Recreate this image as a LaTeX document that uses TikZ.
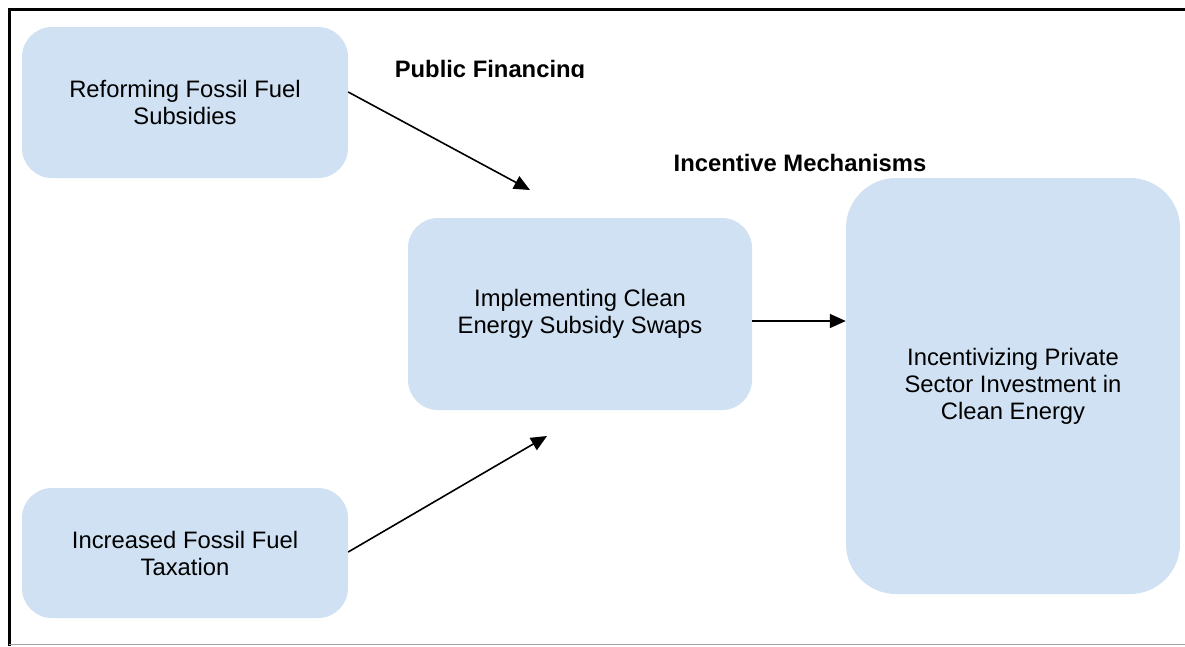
\documentclass[tikz,border=0pt]{standalone}
\usepackage{fontspec}
\setmainfont{Liberation Sans}
\usetikzlibrary{arrows.meta}
\definecolor{boxblue}{RGB}{207,225,242}
\begin{document}
\begin{tikzpicture}[x=1pt,y=-1pt,
  box/.style={fill=boxblue,draw=none,rounded corners=30pt,align=center,
    font=\fontsize{23.8}{27}\selectfont,inner sep=0pt},
  lbl/.style={font=\fontsize{23.8}{27}\selectfont\bfseries,inner sep=0pt},
  conn/.style={line width=1.6pt,-{Triangle[length=16pt,width=14pt]}}]
\useasboundingbox (0,0) rectangle (1185,646);
% frame
\draw[line width=3pt] (9,646) -- (9,9) -- (1185,9);
\draw[line width=1.2pt,gray!70] (9,644.5) -- (1185,644.5);
% boxes
\node[box,minimum width=326pt,minimum height=151pt] (a) at (185,102.5) {Reforming Fossil Fuel\\Subsidies};
\node[box,minimum width=326pt,minimum height=130pt] (b) at (185,553) {Increased Fossil Fuel\\Taxation};
\node[box,minimum width=344pt,minimum height=192pt] (c) at (580,314) {Implementing Clean\\Energy Subsidy Swaps};
\node[box,rounded corners=50pt,minimum width=334pt,minimum height=416pt] (d) at (1013,386) {Incentivizing Private\\Sector Investment in\\Clean Energy};
% labels
\begin{scope}
\clip (300,40) rectangle (700,77);
\node[lbl] (pf) at (490,71) {Public Financing};
\end{scope}
\node[lbl] (im) at (800,163) {Incentive Mechanisms};
% connectors
\coordinate (e1) at (530,190);
\coordinate (e2) at (547,436);
\draw[conn] (a.east |- 0,92) -- (e1);
\draw[conn] (b.east |- 0,552) -- (e2);
\draw[conn] (c.east |- 0,321) -- (d.west |- 0,321);
\end{tikzpicture}
\end{document}
